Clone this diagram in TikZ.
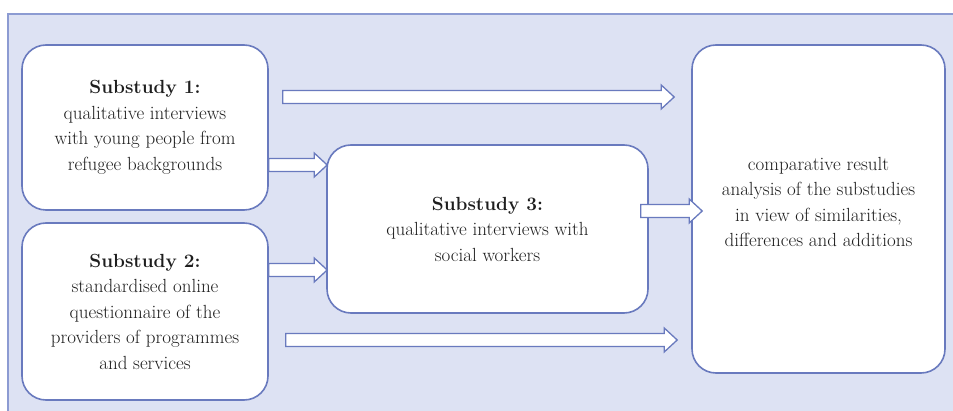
\documentclass[tikz,border=0pt]{standalone}
\usetikzlibrary{calc}
\definecolor{panel}{RGB}{221,226,243}
\definecolor{panelline}{RGB}{140,155,210}
\definecolor{boxline}{RGB}{105,122,190}
\definecolor{txt}{RGB}{30,30,30}
\tikzset{
  box/.style={draw=boxline, line width=1.6pt, fill=white, rounded corners=24pt,
    align=center, text=txt, font=\fontsize{19}{25.5}\selectfont, inner sep=0pt},
  label/.style={align=center, text=txt, font=\fontsize{19}{25.5}\selectfont, inner sep=0pt},
  barrow/.style={draw=boxline, line width=1.3pt, fill=white, line join=miter}
}
% horizontal block arrow from coordinate #1 to tip coordinate #2
\newcommand\blockarr[2]{%
  \draw[barrow] let \p1=(#1), \p2=(#2) in
    (\x1,\y1+6.5pt) -- (\x2-13pt,\y1+6.5pt) -- (\x2-13pt,\y1+12pt) -- (\x2,\y1)
    -- (\x2-13pt,\y1-12pt) -- (\x2-13pt,\y1-6.5pt) -- (\x1,\y1-6.5pt) -- cycle;}
\begin{document}
\begin{tikzpicture}[x=1pt,y=-1pt]
  \useasboundingbox (0,0) rectangle (953,411);
  % background panel
  \draw[panelline, line width=1.2pt, fill=panel] (8,14) rectangle (960,420);

  % study boxes
  \node[box, minimum width=246pt, minimum height=165pt] (s1) at (145,127.5)
    {\textbf{Substudy 1:}\\qualitative interviews\\with young people from\\refugee backgrounds};
  \node[box, minimum width=246pt, minimum height=177pt] (s2) at (145,311.5)
    {\textbf{Substudy 2:}\\standardised online\\questionnaire of the\\providers of programmes\\and services};
  \node[box, minimum width=321pt, minimum height=168pt] (s3) at (487.5,229)
    {\textbf{Substudy 3:}\\qualitative interviews with\\social workers};
  \node[box, minimum width=253pt, minimum height=328pt] (res) at (818.5,209) {};
  \node[label] (restxt) at (818.5,202)
    {comparative result\\analysis of the substudies\\in view of similarities,\\differences and additions};

  % arrow end points
  \coordinate (a1s) at ([xshift=14pt]s1.east |- 0,97);
  \coordinate (a1e) at ([xshift=-17pt]res.west |- 0,97);
  \coordinate (a2s) at (s1.east |- 0,165);
  \coordinate (a2e) at ([xshift=1pt]s3.west |- 0,165);
  \coordinate (a3s) at (s2.east |- 0,270);
  \coordinate (a3e) at ([xshift=1pt]s3.west |- 0,270);
  \coordinate (a4s) at ([xshift=-8pt]s3.east |- 0,211);
  \coordinate (a4e) at ([xshift=11pt]res.west |- 0,211);
  \coordinate (a5s) at ([xshift=17pt]s2.east |- 0,340);
  \coordinate (a5e) at ([xshift=-14pt]res.west |- 0,340);

  \blockarr{a1s}{a1e}
  \blockarr{a2s}{a2e}
  \blockarr{a3s}{a3e}
  \blockarr{a4s}{a4e}
  \blockarr{a5s}{a5e}
\end{tikzpicture}
\end{document}
